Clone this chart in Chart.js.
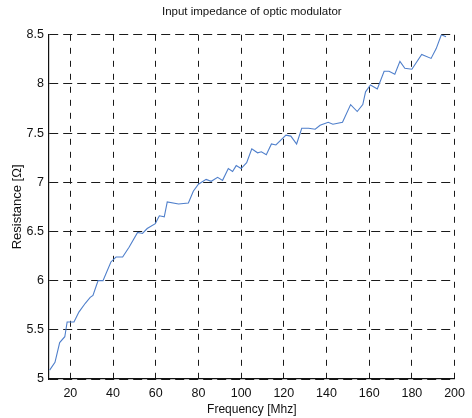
<!DOCTYPE html>
<html>
<head>
<meta charset="utf-8">
<script src="https://cdn.jsdelivr.net/npm/chart.js@4/dist/chart.umd.min.js"></script>
<style>
  html, body { margin: 0; padding: 0; background: #fff; }
  #wrap { width: 472px; height: 418px; }
</style>
</head>
<body>
<div id="wrap"><canvas id="impedance"></canvas></div>
<script>
// frequency [MHz] and resistance [ohm]
const freqs = [10.3, 12.8, 15, 17.4, 18.5, 21.7, 24, 27, 29.3, 30.6, 33, 35.3, 39, 41.4, 44.5, 47.5,
  51.5, 53.8, 56, 59.8, 61.7, 64, 65.4, 70.7, 75.3, 77.6, 80, 83.6, 86, 89, 91.3, 94, 96, 97.7,
  100, 102.6, 105, 107.7, 109.5, 111.8, 114.2, 116.3, 121, 123.3, 126, 128.4, 131.6, 134.7, 137,
  140.8, 143, 147.5, 151.3, 154.4, 157, 158.3, 160.6, 163.8, 167, 169.3, 172, 174.4, 176.7, 180,
  184.6, 189, 191.4, 193.8, 196];
const resistance = [5.09, 5.17, 5.37, 5.43, 5.58, 5.58, 5.68, 5.77, 5.83, 5.85, 6.0, 6.0, 6.19, 6.24, 6.24, 6.34,
  6.49, 6.48, 6.53, 6.58, 6.66, 6.65, 6.80, 6.78, 6.79, 6.91, 6.98, 7.03, 7.01, 7.05, 7.02, 7.14, 7.11, 7.17,
  7.14, 7.2, 7.34, 7.3, 7.31, 7.28, 7.39, 7.38, 7.48, 7.47, 7.39, 7.55, 7.55, 7.54, 7.58,
  7.61, 7.59, 7.61, 7.79, 7.72, 7.79, 7.92, 7.99, 7.95, 8.13, 8.13, 8.1, 8.23, 8.16, 8.15,
  8.3, 8.26, 8.36, 8.5, 8.48];
const xTicks = [20, 40, 60, 80, 100, 120, 140, 160, 180, 200];
const yTicks = [5, 5.5, 6, 6.5, 7, 7.5, 8, 8.5];

const fontFamily = '"Liberation Sans", Arial, sans-serif';

const data = {
    datasets: [{
        data: freqs.map((f, i) => ({ x: f, y: resistance[i] })),
        borderColor: '#4f7fcb',
        borderWidth: 1.1,
        pointRadius: 0,
        tension: 0,
        fill: false
    }]
}

const options = {
    responsive: true,
    maintainAspectRatio: false,
    animation: false,
    layout: { padding: { left: 0, right: 10, top: 0, bottom: 0 } },
    plugins: {
        legend: { display: false },
        tooltip: { enabled: false },
        title: {
            display: true,
            fullSize: false,
            text: 'Input impedance of optic modulator',
            color: '#111',
            font: { family: fontFamily, size: 11.5, weight: 'normal' },
            padding: { top: 5, bottom: 16 }
        }
    },
    scales: {
        x: {
            type: 'linear',
            min: 10,
            max: 200,
            afterBuildTicks: scale => { scale.ticks = xTicks.map(v => ({ value: v })) },
            afterFit: scale => { scale.height = 39 },
            grid: { color: '#1a1a1a', lineWidth: 1, drawTicks: false },
            // dash here = dash of the vertical grid lines
            border: { display: true, color: '#111', width: 1.2, dash: [6, 7] },
            ticks: { color: '#111', padding: 7, maxRotation: 0, font: { family: fontFamily, size: 12.5 } },
            title: {
                display: true,
                text: 'Frequency [Mhz]',
                color: '#111',
                font: { family: fontFamily, size: 12 },
                padding: { top: 0, bottom: 1 }
            }
        },
        y: {
            min: 5,
            max: 8.5,
            afterBuildTicks: scale => { scale.ticks = yTicks.map(v => ({ value: v })) },
            afterFit: scale => { scale.width = 49 },
            grid: { color: '#1a1a1a', lineWidth: 1, drawTicks: false },
            border: { display: true, color: '#111', width: 1.2, dash: [9, 5] },
            ticks: {
                color: '#111',
                padding: 5,
                font: { family: fontFamily, size: 12.5 },
                callback: v => String(v)   // matlab style: 8, 7.5, 7 ...
            },
            title: {
                display: true,
                text: 'Resistance [Ω]',
                color: '#111',
                font: { family: fontFamily, size: 13 },
                padding: { top: 10, bottom: 0 }
            }
        }
    }
}

new Chart('impedance', { type: 'line', data, options })
</script>
</body>
</html>
